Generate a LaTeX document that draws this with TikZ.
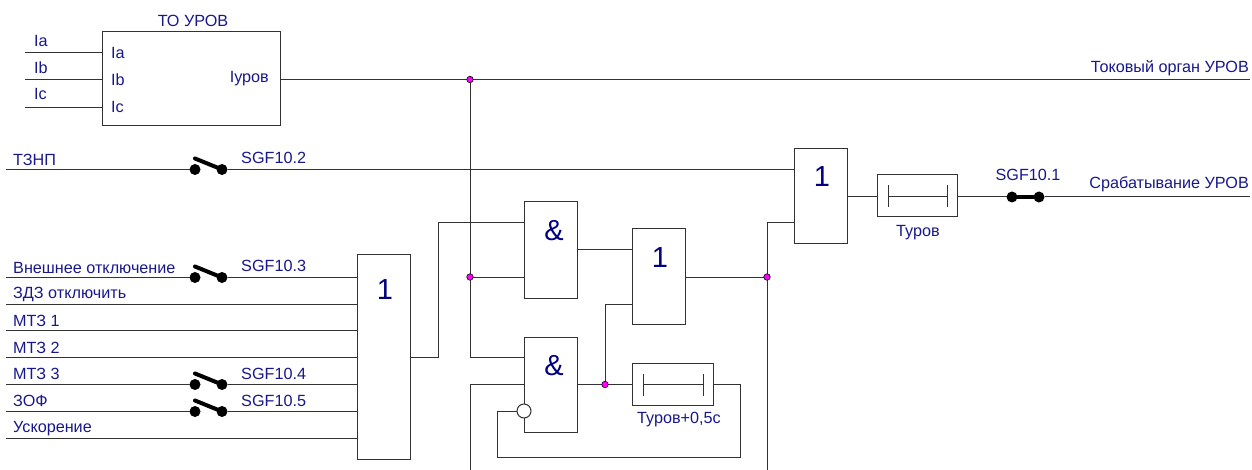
\documentclass[tikz,border=0pt]{standalone}
\usepackage{fontspec}
\setmainfont{Liberation Sans}
\usepackage{xcolor}
\usetikzlibrary{calc}
\definecolor{sgblue}{RGB}{24,24,140}
\definecolor{sgnavy}{RGB}{0,0,128}
\definecolor{sgwire}{RGB}{50,50,50}
\definecolor{sgdot}{RGB}{255,0,255}
\tikzstyle{wire} = [line width=1pt,color=sgwire]
\tikzstyle{block} = [rectangle, draw=sgwire, fill=white, line width=1pt, inner sep=0pt, outer sep=0pt]
\tikzstyle{gate} = [block, minimum width=53pt]
\tikzstyle{timer} = [block, minimum height=42pt]
\tikzstyle{txt} = [inner sep=0pt, text=sgblue, font=\fontsize{16.2}{18}\selectfont]
\tikzstyle{sign} = [inner sep=0pt, text=sgnavy, font=\fontsize{29}{32}\selectfont]
\tikzstyle{swdot} = [circle, fill=black, inner sep=0pt, outer sep=0pt, minimum size=11pt]
\tikzstyle{swbar} = [line width=4pt, line cap=round, color=black]
\tikzstyle{joint} = [circle, draw=black, fill=sgdot, line width=0.6pt, inner sep=0pt, outer sep=0pt, minimum size=6.5pt]

\begin{document}
\begin{tikzpicture}[x=1pt,y=-1pt]
\useasboundingbox (0,0) rectangle (1252,470);

% Current element
\node (to) [block, minimum width=178pt, minimum height=94pt] at (191,79) {};
\node (totitle) [txt] at (193,21) {ТО УРОВ};
\coordinate (ia) at (25,52.5);
\coordinate (ib) at (25,80);
\coordinate (ic) at (25,107.5);
\draw[wire] (ia) -- (ia -| to.west);
\draw[wire] (ib) -- (ib -| to.west);
\draw[wire] (ic) -- (ic -| to.west);
\node (ialab) [txt, anchor=west] at (34,41) {Ia};
\node (iblab) [txt, anchor=west] at (34,67.5) {Ib};
\node (iclab) [txt, anchor=west] at (34,94) {Ic};
\node (iain) [txt, anchor=west] at (111,53) {Ia};
\node (ibin) [txt, anchor=west] at (111,80) {Ib};
\node (icin) [txt, anchor=west] at (111,107) {Ic};
\node (iout) [txt, anchor=east] at (269,79) {Iуров};

% Gates
\node (orA) [gate, minimum height=204pt] at (384,357) {};
\node (andA) [gate, minimum height=96pt] at (551,250) {};
\node (andB) [gate, minimum height=95pt] at (551,384.5) {};
\node (orB) [gate, minimum height=95pt] at (658.5,276.5) {};
\node (orC) [gate, minimum height=95pt] at (821,196.5) {};
\node (orAsign) [sign] at (385,290) {1};
\node (andAsign) [sign] at (554,231) {\&};
\node (andBsign) [sign] at (554,366) {\&};
\node (orBsign) [sign] at (660,258) {1};
\node (orCsign) [sign] at (822,177) {1};

% Timers
\node (tmA) [timer, minimum width=81pt] at (672.5,384) {};
\node (tmB) [timer, minimum width=80pt] at (917,196) {};
\node (tmAlab) [txt] at (679,420) {Туров+0,5с};
\node (tmBlab) [txt] at (918,233) {Туров};
\coordinate (tmAl) at (643,384.5);
\coordinate (tmAr) at (703,384.5);
\coordinate (tmBl) at (888,196.5);
\coordinate (tmBr) at (947,196.5);
\draw[wire] (tmAl) -- (tmAr);
\draw[wire] ($(tmAl)+(0,-11)$) -- ($(tmAl)+(0,11)$);
\draw[wire] ($(tmAr)+(0,-11)$) -- ($(tmAr)+(0,11)$);
\draw[wire] (tmBl) -- (tmBr);
\draw[wire] ($(tmBl)+(0,-11)$) -- ($(tmBl)+(0,11)$);
\draw[wire] ($(tmBr)+(0,-11)$) -- ($(tmBr)+(0,11)$);

% Top outputs
\coordinate (toend) at (1250,80);
\coordinate (srend) at (1250,197);
\draw[wire] (to.east |- toend) -- (toend);
\node (tolab) [txt, anchor=east] at (1249,68) {Токовый орган УРОВ};
\node (srlab) [txt, anchor=east] at (1249,184) {Срабатывание УРОВ};

% T3HP
\coordinate (tznp) at (6,169.5);
\node (s2a) [swdot] at (195,169.5) {};
\node (s2b) [swdot] at (222,169.5) {};
\draw[wire] (tznp) -- (s2a);
\draw[wire] (s2b) -- (s2b -| orC.west);
\draw[swbar] (s2b) -- ++(-27,-11);
\node (tznplab) [txt, anchor=west] at (13,160) {ТЗНП};
\node (s2lab) [txt, anchor=west] at (241,158) {SGF10.2};

% Inputs of the first OR
\coordinate (in1) at (6,277.5);
\coordinate (in2) at (6,304.5);
\coordinate (in3) at (6,330.5);
\coordinate (in4) at (6,357.5);
\coordinate (in5) at (6,384.5);
\coordinate (in6) at (6,411.5);
\coordinate (in7) at (6,438.5);
\node (s3a) [swdot] at (195,277.5) {};
\node (s3b) [swdot] at (222,277.5) {};
\node (s4a) [swdot] at (195,384.5) {};
\node (s4b) [swdot] at (222,384.5) {};
\node (s5a) [swdot] at (195,411.5) {};
\node (s5b) [swdot] at (222,411.5) {};
\draw[wire] (in1) -- (s3a);
\draw[wire] (s3b) -- (s3b -| orA.west);
\draw[swbar] (s3b) -- ++(-27,-11);
\draw[wire] (in2) -- (in2 -| orA.west);
\draw[wire] (in3) -- (in3 -| orA.west);
\draw[wire] (in4) -- (in4 -| orA.west);
\draw[wire] (in5) -- (s4a);
\draw[wire] (s4b) -- (s4b -| orA.west);
\draw[swbar] (s4b) -- ++(-27,-11);
\draw[wire] (in6) -- (s5a);
\draw[wire] (s5b) -- (s5b -| orA.west);
\draw[swbar] (s5b) -- ++(-27,-11);
\draw[wire] (in7) -- (in7 -| orA.west);
\node (in1lab) [txt, anchor=west] at (13,268) {Внешнее отключение};
\node (in2lab) [txt, anchor=west] at (13,294) {ЗДЗ отключить};
\node (in3lab) [txt, anchor=west] at (13,320.5) {МТЗ 1};
\node (in4lab) [txt, anchor=west] at (13,347.5) {МТЗ 2};
\node (in5lab) [txt, anchor=west] at (13,374) {МТЗ 3};
\node (in6lab) [txt, anchor=west] at (13,401) {ЗОФ};
\node (in7lab) [txt, anchor=west] at (13,428.5) {Ускорение};
\node (s3lab) [txt, anchor=west] at (241,266) {SGF10.3};
\node (s4lab) [txt, anchor=west] at (241,374) {SGF10.4};
\node (s5lab) [txt, anchor=west] at (241,401) {SGF10.5};

% Logic wiring
\coordinate (jtop) at (470,79.5);
\coordinate (jand) at (470,277);
\coordinate (jback) at (605,384.5);
\coordinate (jor) at (767,277);
\coordinate (botA) at (470,470);
\coordinate (botB) at (767,470);
\coordinate (fbr) at (740,457);
\coordinate (fbl) at (497,457);
\node (inv) [circle, draw=sgwire, fill=white, line width=1pt, inner sep=0pt, minimum size=14pt] at (524,411) {};
\draw[wire] (jtop) -- (470,357) -- (andB.west |- 0,357);
\draw[wire] (orA.east |- 0,357) -- (438,357) -- (438,223) -- (andA.west |- 0,223);
\draw[wire] (jand) -- (jand -| andA.west);
\draw[wire] (botA) -- (470,384.5) -- (andB.west |- 0,384.5);
\draw[wire] (andA.east |- 0,250) -- (orB.west |- 0,250);
\draw[wire] (jback) -- (605,304) -- (orB.west |- 0,304);
\draw[wire] (andB.east |- jback) -- (tmA.west |- jback);
\draw[wire] (tmA.east |- jback) -- (740,384.5) -- (fbr) -- (fbl) -- (497,411) -- (inv);
\draw[wire] (orB.east |- jor) -- (jor);
\draw[wire] (botB) -- (767,223) -- (orC.west |- 0,223);
\draw[wire] (orC.east |- 0,197) -- (tmB.west |- 0,197);
\node (s1a) [swdot] at (1012,197) {};
\node (s1b) [swdot] at (1039,197) {};
\draw[wire] (tmB.east |- srend) -- (s1a);
\draw[wire] (s1b) -- (srend);
\draw[swbar] (s1a) -- (s1b);
\node (s1lab) [txt] at (1028,175) {SGF10.1};

% Junctions
\node (d1) [joint] at (jtop) {};
\node (d2) [joint] at (jand) {};
\node (d3) [joint] at (jback) {};
\node (d4) [joint] at (jor) {};
\end{tikzpicture}
\end{document}
